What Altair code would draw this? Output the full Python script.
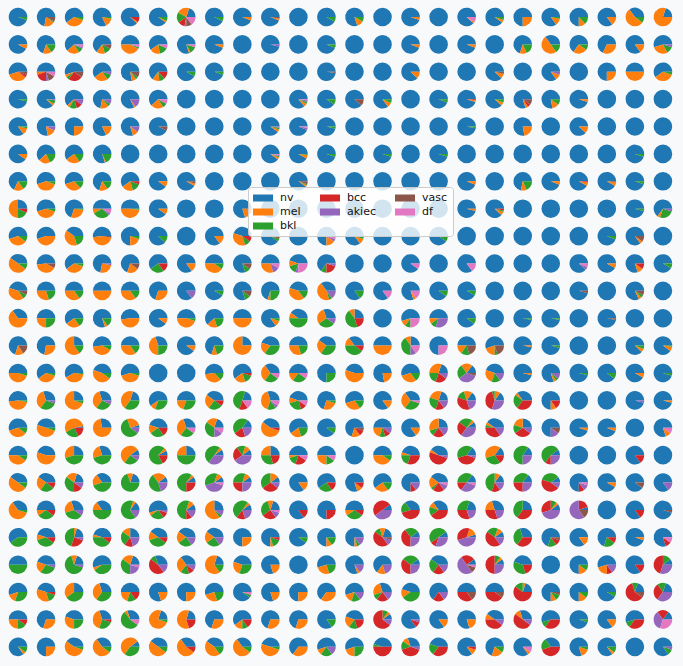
import re
import math
import altair as alt
import pandas as pd

CLASSES = ["nv", "mel", "bkl", "bcc", "akiec", "vasc", "df"]
CODES = ["n", "m", "b", "c", "a", "v", "d"]
COLORS = ["#1f77b4", "#ff7f0e", "#2ca02c", "#d62728", "#9467bd", "#8c564b", "#e377c2"]
LEGEND_ORDER = ["nv", "bcc", "vasc", "mel", "akiec", "df", "bkl"]

# Each row: 24 cells; code letters = class, number = share (no number = 100)
ROW_00 = "n95b5 n72m18b2v8 n60m35b5 n82m15b3 n88m3c9 n90m3b7 n20m22b18c12a3v10d15 n93b7 n94m6 n94m3v3 n n92b8 n80m12b8 n n95m5 n n88m3d9 n90m5b5 n75m25 n85m12b3 n75m12b13 n85m15 n35m55b10 n20m80"
ROW_01 = "n92m8 n70m15b15 n62m22b8a3d5 n65m15b12v8 n50m42b3d5 n60m18b15d7 n80m3b12d5 n94m6 n n96a4 n n94b6 n n n94m6 n n94m6 n n70m12b18 n35m50b15 n65m25b10 n68m32 n85m15 n55m28b12a5"
ROW_02 = "n55m35c5v5 n50m5c20a5v12d8 n55m5b5c25v10 n60m25b10a5 n78m8b4v10 n65m12b10c13 n92b8 n95b5 n n n n98v2 n n n88m12 n n n88m8v4 n n85m10a5 n n75m25 n50m50 n60m35b5"
ROW_03 = "n96b4 n88m4b6a2 n62m5b13c10a10 n72m15b5a8 n82m3a15 n62m22b8d8 n n n n n86m6b3a3d2 n90b10 n88v12 n85m8b7 n n94b6 n95m3c2 n88m6b6 n80m5c5v10 n78m12b10 n95m5 n n n"
ROW_04 = "n85m12b3 n78m15a7 n75m25 n82m18 n80m10a10 n93v7 n n n n90m5b3a2 n94a4d2 n96b4 n n n n n97b3 n n78m22 n n88m12 n n n"
ROW_05 = "n90m10 n62m20b18 n60m25b15 n80m2b18 n n n n n n90m4b2a2d2 n92m6b2 n95b5 n n95b5 n n95b5 n n n n n n n95b5 n"
ROW_06 = "n68m17b15 n55m40b5 n55m32b13 n70m15b15 n60m20b15c5 n90m10 n92m4v4 n n n n90m3b2v5 n n n n n n94m6 n n72m10b18 n94m6 n92m6c2 n92m6v2 n95b5 n"
ROW_07 = "n25m50b18c7 n55m40b5 n70m28b2 n50m8b30a4d8 n50m48b2 n90m10 n n n80m20 n n n n n n n n96m4 n88m6b3c3 n n n n n96b4 n65m5b25a5"
ROW_08 = "n55m35b10 n55m45 n40m40b20 n52m45v3 n75m20b5 n88b12 n n85m15 n45m35b10c10 n90b5v5 n n75m15a5d5 n85m10b5 n n n90b10 n n n n n n94b6 n85m5v10 n"
ROW_09 = "n40m50b10 n52m40v8 n60m35b5 n72m25a3 n70m20v10 n60b25c15 n85m15 n50m40b10 n80b10v10 n50m30a12d8 n45m10b15a5d25 n65b10c20a5 n n n90d10 n n85d15 n n n n88a6d6 n92m8 n80m10c10 n92b8"
ROW_10 = "n45m40b8v7 n50m30b20 n50m35b15 n50m50 n50m35b15 n70m30 n85a15 n92b8 n80b10v10 n70m5b25 n45m40b15 n35m45b5a15 n85b15 n85d15 n80m5d15 n90b10 n92b8 n n n n96v4 n n82m5b5v8 n"
ROW_11 = "n35m65 n50m25b25 n60m25b15 n80m5b15 n52m48 n90m10 n50m45b5 n62m18b20 n50m50 n85m10b5 n40m10b50 n30m30b30a10 n25m10b45c20 n n55m10b10d25 n50m10b10a30 n90b10 n n97b3 n97b3 n n97v3 n n"
ROW_12 = "n70m15v15 n72m28 n25m60b15 n52m40b8 n50m35b15 n30m45b25 n90m10 n70m10b20 n25m75 n45m20b35 n50m30b20 n40m25b35 n35m15b40c10 n50m50 n25m10b40a10d15 n75d25 n50m15b15v20 n55m20b5v20 n97m3 n96b4 n n n88m6b6 n90m8b2"
ROW_13 = "n50m45b5 n60m35b5 n58m40b2 n45m45b10 n55m40b5 n n n52m35b13 n60m20b15c5 n35m30b25d10 n50m15b25d10 n75b25 n45m55 n78m22 n55m30b15 n20m30b20c20a10 n15m20b25a35v5 n45m25b15a15 n96m4 n80m5b5a10 n96b4 n90b10 n92m8 n95b5"
ROW_14 = "n52m45b3 n30m35b30a5 n25m70b5 n30m35b28a7 n20m45b35 n60m10b30 n50m20b30 n40m25b25c10 n20b50c15d15 n30m40b15a5d10 n45m10b25c10d10 n70m25b5 n55m30b15 n85m15 n35m30b30d5 n20m25b25c15a15 n15m15b15c35a20 n15m10b5c40a30 n35m5b25c35 n75m10c15 n n n96a4 n96m4"
ROW_15 = "n55m35b10 n45m50b5 n3m55b25c17 n28m72 n5m25b60a10 n45m15b25c15 n30m35b25d10 n20m20b35a15d10 n15b45c20a20 n40m55c5 n60m20b20 n90b10 n70m15c10v5 n50m20b10c10a10 n85m15 n25m30b10c20a15 n10m5b25c25a35 n40m5b5c35a15 n25m20b15c30a10 n75v10a15 n95m5 n94m6 n n80m10d10"
ROW_16 = "n50m40b10 n45m55 n25m30b45 n30m25b45 n10m55b25a10 n8m5b70c17 n25m25b50 n10m5b50a35 n10m10b15c25a40 n25m25b30c20 n50m5b15c20d10 n50m25b15d10 n n50m40b10 n45m5b20c30 n40m5c50a5 n15b40c40a5 n15m40b30c15 n15b60a25 n10b55c10a25 n n n85c15 n"
ROW_17 = "n40m50b10 n40m25b25c10 n20m20b35c15a10 n35m20b45 n20m10b70 n10m25b45a20 n10m5b60c25 n10m10b35a40d5 n10m10b30c25a25 n10m15b35c30a10 n85m15 n60b25c15 n80m10c10 n60m25b15 n75c10a15 n40m20b5c20a10d5 n15b35c15a30d5 n15m10b45c15a15 n15b35c25a25 n10b35c45a10 n75c10a10d5 n92m8 n90v10 n85a15"
ROW_18 = "n35m60b5 n50m10b30c10 n30m25b35a10 n35m15b50 n15m5b65a15 n55m5b25c10a5 n10m10b55c10a15 n25m60b5a10 n10m5b50c15a20 n20m10b30c25a10d5 n85c15 n75c25 n50m10b30c10 n10c50a40 n35b20c45 n35m10b15c40 n20b30c30a20 n30m20c30a20 n25b40c35 n10m5b10c30a45 n5c20a60v15 n n85c15 n95v5"
ROW_19 = "n60b40 n45m10b35c10 n20m5b45c25a5 n45m5b40c10 n25m15b25c15a20 n40m15b35c10 n40m20b25a15 n40m20b25a15 n75m25 n75m5b15c5 n90b10 n75m10b15 n75m5b5a15 n20m10b10c45a10v5 n10b25c40a25 n10b50c10a30 n5m15c35a45 n10m10b20c45a15 n30b35c35 n70b15c10v5 n85m15 n70b20c10 n95m5 n80c10d10"
ROW_20 = "n50b50 n45m20b30a5 n20m10b65a5 n55m5b40 n20m20b35a20d5 n30b10c45a15 n35m30b15c10a10 n20m65b15 n45m25b30 n80m20 n n55m25b20 n80m5a15 n65m15a20 n10b30c35a25 n40b25c20a15 n10c25a50v10d5 n10m5b10c50a25 n45b35c20 n n75m15b10 n55m20c10a15 n85c15 n10b15c45a30"
ROW_21 = "n55m15b30 n45m35b15c5 n25m35b40 n30m35b35 n50m20b15c15 n80m20 n75m25 n55m25b20 n90b5d5 n80m20 n75m25 n65m35 n55m15b15a15 n30m25b10c20a15 n45m15b40 n65c20a15 n50c35v15 n50c40v10 n20m5b15c60 n75m10b10v5 n75m15b10 n92b8 n20b10c60v10 n20b15c30a35"
ROW_22 = "n50m25b15c10 n70m30 n45m30b25 n30m40b25c5 n30m5b55d10 n20m75b5 n20m60c20 n70m30 n60m15b10c15 n70m30 n70m30 n85b15 n45m20b15c20 n10m5b10c65a10 n85c10a5 n85m15 n80m20 n40m10c40a10 n30m10c50a10 n55b10c35 n95b5 n85m15 n55b10c35 n15c20a35d30"
ROW_23 = "n85m5b10 n75m25 n40m55b5 n35m55b10 n10m55b35 n40m50b10 n35m55c10 n40m45b15 n35m55b10 n45m50b5 n65m35 n55m10b20a15 n55m20b25 n45b5c50 n30m10b15c40a5 n45b20c35 n85m10c5 n70m20b10 n85m5d10 n35b20c45 n80m15b5 n85m5b10 n n85b10a5"

GRID = [ROW_00, ROW_01, ROW_02, ROW_03, ROW_04, ROW_05, ROW_06, ROW_07,
        ROW_08, ROW_09, ROW_10, ROW_11, ROW_12, ROW_13, ROW_14, ROW_15,
        ROW_16, ROW_17, ROW_18, ROW_19, ROW_20, ROW_21, ROW_22, ROW_23]

records = []
for r, row in enumerate(GRID):
    cells = row.split()
    for c, tok in enumerate(cells):
        for code, num in re.findall(r"([nmbcavd])(\d*)", tok):
            k = CODES.index(code)
            records.append({"row": r, "col": c, "cls": CLASSES[k], "k": k,
                            "value": float(num) if num else 100.0})
df = pd.DataFrame(records)

color_range = [COLORS[CLASSES.index(c)] for c in LEGEND_ORDER]

chart = (
    alt.Chart(df)
    .transform_joinaggregate(total="sum(value)", groupby=["row", "col"])
    .transform_window(cum="sum(value)", sort=[alt.SortField("k")],
                      groupby=["row", "col"], frame=[None, 0])
    .transform_calculate(t0="1 - datum.cum / datum.total",
                         t1="1 - (datum.cum - datum.value) / datum.total")
    .mark_arc(radius=9.3)
    .encode(
        x=alt.X("col:Q", scale=alt.Scale(domain=[-0.642, 23.716]), axis=None),
        y=alt.Y("row:Q", scale=alt.Scale(domain=[-0.621, 23.70], reverse=True), axis=None),
        theta=alt.Theta("t0:Q", scale=alt.Scale(domain=[0, 1],
                                                range=[math.pi / 2, 5 * math.pi / 2])),
        theta2="t1:Q",
        color=alt.Color(
            "cls:N",
            title=None,
            sort=LEGEND_ORDER,
            scale=alt.Scale(domain=LEGEND_ORDER, range=color_range),
            legend=alt.Legend(
                orient="none", legendX=248, legendY=187, columns=3,
                direction="horizontal",
                values=LEGEND_ORDER,
                symbolType="M-1.667,-0.583H1.667V0.583H-1.667Z",
                symbolSize=144, symbolStrokeWidth=0, symbolOffset=4,
                labelFont="DejaVu Sans", labelFontSize=11, labelColor="#111111",
                labelOffset=11, rowPadding=3, columnPadding=18, padding=5,
                fillColor="rgba(255,255,255,0.8)", strokeColor="#cccccc",
                cornerRadius=3, zindex=1,
            ),
        ),
    )
    .properties(width=683, height=666, autosize=alt.AutoSizeParams(type="none"), padding=0)
    .configure(background="#f8f9fa")
    .configure_view(strokeWidth=0)
)

chart.save("out.html", embed_options={"renderer": "svg", "actions": False})
